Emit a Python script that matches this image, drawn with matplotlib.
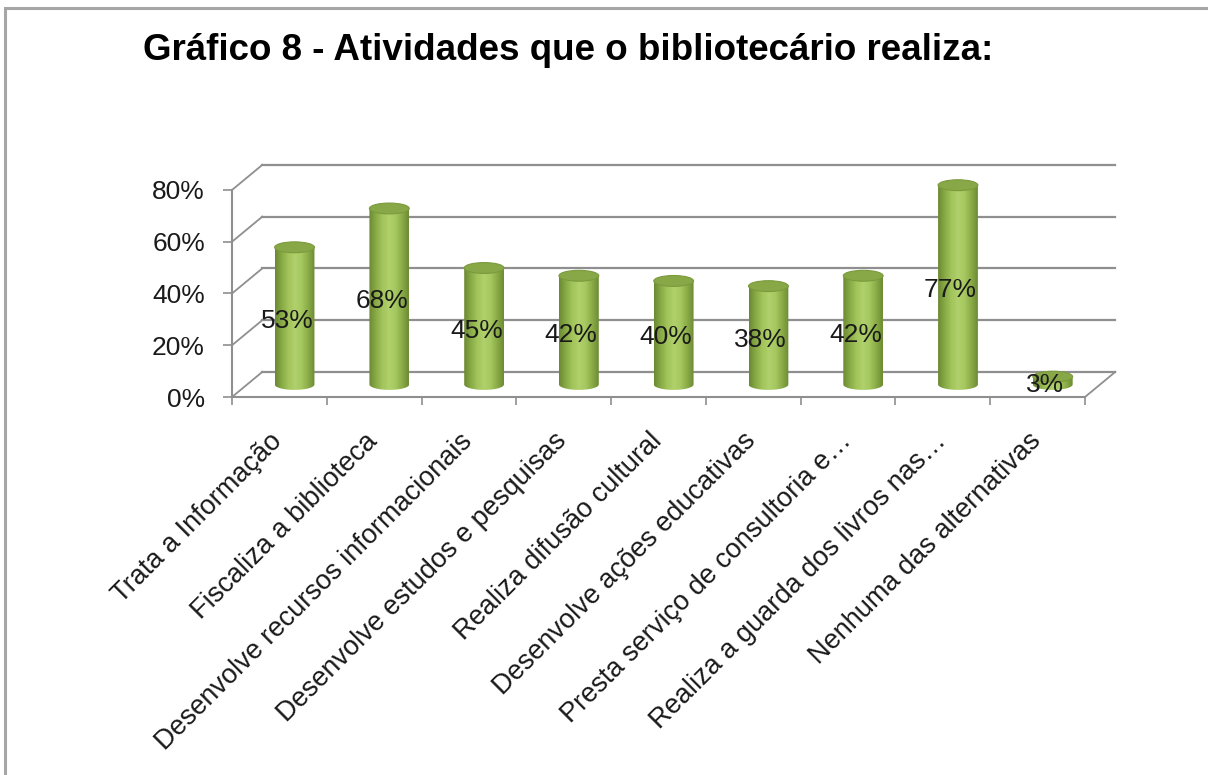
import numpy as np
import matplotlib
matplotlib.use('Agg')
import matplotlib.pyplot as plt
from matplotlib.colors import LinearSegmentedColormap
from matplotlib.patches import PathPatch, Ellipse, Rectangle
from matplotlib.path import Path

plt.rcParams['font.family'] = ['Liberation Sans', 'DejaVu Sans']

title = 'Gráfico 8 - Atividades que o bibliotecário realiza:'
categories = ['Trata a Informação',
              'Fiscaliza a biblioteca',
              'Desenvolve recursos informacionais',
              'Desenvolve estudos e pesquisas',
              'Realiza difusão cultural',
              'Desenvolve ações educativas',
              'Presta serviço de consultoria e…',
              'Realiza a guarda dos livros nas…',
              'Nenhuma das alternativas']
values = [53, 68, 45, 42, 40, 38, 42, 77, 3]
y_ticks = [0, 20, 40, 60, 80]

grid_color = '#8f8f8f'
cyl_cmap = LinearSegmentedColormap.from_list(
    'cyl', ['#6a8832', '#88aa45', '#a2c45b', '#b0d06b', '#a6c860', '#8aab46', '#6c8b33'])
top_color = '#88a746'

# depth of the 3d box (x in category units, y in percent)
dx, dy = 0.32, 9.7
w, eh = 0.42, 4.2
n = len(values)

fig = plt.figure(figsize=(12.08, 7.75), dpi=100)
ax = fig.add_axes([0.19205, 0.48774, 0.7375, 0.3172])
ax.patch.set_visible(False)

# back wall + side wall lines
for t in y_ticks:
    ax.plot([dx, n + dx], [t + dy, t + dy], color=grid_color, lw=1.6, zorder=1, clip_on=False)
    ax.plot([0, dx], [t, t + dy], color=grid_color, lw=1.3, zorder=1, clip_on=False)
ax.plot([n, n + dx], [0, dy], color=grid_color, lw=1.3, zorder=1, clip_on=False)

# cylinders
grad = np.linspace(0, 1, 256).reshape(1, -1)
for i, v in enumerate(values):
    xc = i + 0.5 + dx / 2
    yb = dy / 2
    xl, xr = xc - w / 2, xc + w / 2
    t = np.linspace(np.pi, 2 * np.pi, 40)
    arc = np.column_stack([xc + w / 2 * np.cos(t), yb + eh / 2 * np.sin(t)])
    verts = np.vstack([[xl, yb + v], arc, [xr, yb + v], [xl, yb + v]])
    codes = [Path.MOVETO] + [Path.LINETO] * (len(verts) - 2) + [Path.CLOSEPOLY]
    clip = PathPatch(Path(verts, codes), transform=ax.transData)
    im = ax.imshow(grad, cmap=cyl_cmap, extent=[xl, xr, yb - eh / 2, yb + v],
                   aspect='auto', interpolation='bilinear', zorder=3)
    im.set_clip_path(clip)
    ax.add_patch(Ellipse((xc, yb + v), w, eh, facecolor=top_color,
                         edgecolor='#7b9a3c', lw=0.8, zorder=4))
    ax.text(i + 0.58, v / 2 + 3, f'{v}%', ha='center', va='center',
            fontsize=19, color='#1a1a1a', zorder=5)

ax.set_xlim(0, 9.4)
ax.set_ylim(0, 95)
ax.set_aspect('auto')

for s in ['top', 'right']:
    ax.spines[s].set_visible(False)
ax.spines['left'].set_bounds(0, 80)
ax.spines['bottom'].set_bounds(0, n)
for s in ['left', 'bottom']:
    ax.spines[s].set_color(grid_color)
    ax.spines[s].set_linewidth(1.5)

ax.set_yticks(y_ticks)
ax.set_yticklabels([f'{t}%' for t in y_ticks])
ax.tick_params(axis='y', length=6.5, width=1.2, color=grid_color, pad=13,
               labelsize=19, labelcolor='#1a1a1a')

ax.set_xticks(range(n + 1))
ax.set_xticklabels([])
ax.tick_params(axis='x', which='major', length=6, width=1.2, color=grid_color)
ax.set_xticks(np.arange(n) + 0.49, minor=True)
ax.set_xticklabels(categories, minor=True, rotation=45, ha='right', va='center',
                   rotation_mode='anchor', fontsize=19.5, color='#1a1a1a')
ax.tick_params(axis='x', which='minor', length=0, pad=29)

fig.text(143 / 1208, 1 - 60 / 775, title, fontsize=26.5, fontweight='bold',
         ha='left', va='baseline')

fig.add_artist(Rectangle((5 / 1208, -0.1), 1.2, 1.1 - 8 / 775, transform=fig.transFigure,
                         fill=False, edgecolor='#a6a6a6', lw=2.2))

fig.savefig('out.png', dpi=100)
